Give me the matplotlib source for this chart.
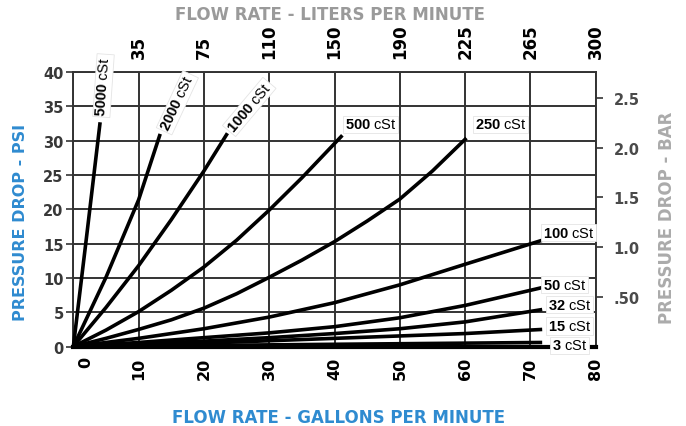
import matplotlib
matplotlib.use("Agg")
import matplotlib.pyplot as plt
from matplotlib.transforms import ScaledTranslation

# flow (GPM) / pressure drop (PSI) points
gpm_5000 = [0, 2.0, 4.1]
psi_5000 = [0, 15.8, 32.7]
gpm_2000 = [0, 5, 10, 13.3]
psi_2000 = [0, 10.1, 21.4, 31.0]
gpm_1000 = [0, 5, 10, 15, 20, 23.6]
psi_1000 = [0, 5.7, 11.8, 18.5, 25.6, 31.1]
gpm_500 = [0, 5, 10, 15, 20, 25, 30, 35, 41.2]
psi_500 = [0, 2.4, 5.1, 8.2, 11.6, 15.5, 19.9, 24.6, 30.8]
gpm_250 = [0, 5, 10, 15, 20, 25, 30, 35, 40, 45, 50, 55, 60.2]
psi_250 = [0, 1.2, 2.5, 3.9, 5.6, 7.7, 10.1, 12.6, 15.3, 18.3, 21.5, 25.6, 30.4]
gpm_100 = [0, 10, 20, 30, 40, 50, 60, 71.8]
psi_100 = [0, 1.2, 2.6, 4.3, 6.4, 9.0, 12.0, 15.5]
gpm_50 = [0, 10, 20, 30, 40, 50, 60, 71.8]
psi_50 = [0, 0.6, 1.3, 2.0, 2.9, 4.2, 6.0, 8.6]
gpm_32 = [0, 10, 20, 30, 40, 50, 60, 71.8]
psi_32 = [0, 0.4, 0.8, 1.3, 1.9, 2.6, 3.6, 5.4]
gpm_15 = [0, 20, 40, 60, 71.8]
psi_15 = [0, 0.5, 1.2, 1.9, 2.5]
gpm_3 = [0, 71.8]
psi_3 = [0, 0.6]

gpm_ticks = [0, 10, 20, 30, 40, 50, 60, 70, 80]
lpm_labels = ["35", "75", "110", "150", "190", "225", "265", "300"]
psi_ticks = [0, 5, 10, 15, 20, 25, 30, 35, 40]
bar_ticks = [0.5, 1.0, 1.5, 2.0, 2.5]
bar_labels = [".50", "1.0", "1.5", "2.0", "2.5"]

PSI_PER_BAR = 14.5038

plt.rcParams["mathtext.fontset"] = "custom"
plt.rcParams["mathtext.rm"] = "Liberation Sans"
plt.rcParams["mathtext.bf"] = "Liberation Sans:bold"
plt.rcParams["font.family"] = "DejaVu Sans"

blue = "#2f8bd0"
grid_c = "#333333"

fig = plt.figure(figsize=(6.86, 4.27), dpi=100)
ax = fig.add_axes([0.1069, 0.186, 0.7615, 0.6426])
ax.set_xlim(0, 80)
ax.set_ylim(0, 40)

ax.set_xticks(gpm_ticks, labels=[str(t) for t in gpm_ticks])
ax.set_yticks(psi_ticks, labels=[str(t) for t in psi_ticks])
ax.grid(True, color=grid_c, lw=1.4, zorder=1)
ax.set_axisbelow(True)
ax.tick_params(axis="x", length=0, pad=7, labelrotation=90, labelsize=11.5)
ax.tick_params(axis="y", length=5, width=1.2, color=grid_c, pad=2, labelsize=10.5, labelcolor="#383838")
for lab in ax.get_xticklabels() + ax.get_yticklabels():
    lab.set_fontweight("bold")
# the "0" under the axis sits a little to the right in the original
zero_lab = ax.get_xticklabels()[0]
zero_lab.set_transform(zero_lab.get_transform() + ScaledTranslation(0.12, 0, fig.dpi_scale_trans))

ax.spines["left"].set_color(grid_c)
ax.spines["left"].set_linewidth(1.4)
ax.spines["top"].set_color(grid_c)
ax.spines["top"].set_linewidth(1.4)
ax.spines["bottom"].set_color("black")
ax.spines["bottom"].set_linewidth(3)
ax.spines["right"].set_visible(False)

curves = [
    (gpm_5000, psi_5000), (gpm_2000, psi_2000), (gpm_1000, psi_1000),
    (gpm_500, psi_500), (gpm_250, psi_250), (gpm_100, psi_100),
    (gpm_50, psi_50), (gpm_32, psi_32), (gpm_15, psi_15), (gpm_3, psi_3),
]
for g, p in curves:
    ax.plot(g, p, color="black", lw=2.6, solid_capstyle="butt", zorder=3, clip_on=False)

# curve labels: (text, gpm, psi, angle)
box = dict(facecolor="white", edgecolor="#e4e4e4", pad=1.2, lw=0.6)
labels = [
    ("5000", 4.3, 33.7, 86),
    ("2000", 14.0, 31.6, 65),
    ("1000", 24.0, 31.6, 50),
    ("500", 41.6, 32.4, 0),
    ("250", 61.5, 32.4, 0),
    ("100", 71.9, 16.6, 0),
    ("50", 71.9, 9.0, 0),
    ("32", 72.7, 6.1, 0),
    ("15", 72.7, 3.0, 0),
    ("3", 73.3, 0.2, 0),
]
for txt, gx, py, ang in labels:
    ax.text(gx, py, r"$\mathbf{%s}$ cSt" % txt, fontsize=10.5, family="Liberation Sans",
            rotation=ang, rotation_mode="anchor", ha="left", va="center",
            bbox=box, zorder=5, clip_on=False)

# right axis in bar
sec = ax.secondary_yaxis("right", functions=(lambda p: p / PSI_PER_BAR, lambda b: b * PSI_PER_BAR))
sec.set_yticks(bar_ticks, labels=bar_labels)
sec.tick_params(length=5, width=1.2, color=grid_c, pad=8, labelsize=10.5, labelcolor="#4a4a4a")
for lab in sec.get_yticklabels():
    lab.set_fontweight("bold")
sec.spines["right"].set_color(grid_c)
sec.spines["right"].set_linewidth(1.4)

# top axis in liters per minute
top = ax.secondary_xaxis("top")
top.set_xticks(gpm_ticks[1:], labels=lpm_labels)
top.tick_params(length=0, pad=10, labelrotation=90, labelsize=12)
for lab in top.get_xticklabels():
    lab.set_fontweight("bold")
top.spines["top"].set_visible(False)

fig.text(0.481, 0.965, "FLOW RATE - LITERS PER MINUTE", color="#9a9a9a",
         fontsize=12, fontweight="bold", ha="center", va="center")
fig.text(0.493, 0.021, "FLOW RATE - GALLONS PER MINUTE", color=blue,
         fontsize=12, fontweight="bold", ha="center", va="center")
fig.text(0.03, 0.48, "PRESSURE DROP - PSI", color=blue, rotation=90,
         fontsize=11.5, fontweight="bold", ha="center", va="center")
fig.text(0.972, 0.49, "PRESSURE DROP - BAR", color="#ababab", rotation=90,
         fontsize=12, fontweight="bold", ha="center", va="center")

fig.savefig("out.png", dpi=100)
